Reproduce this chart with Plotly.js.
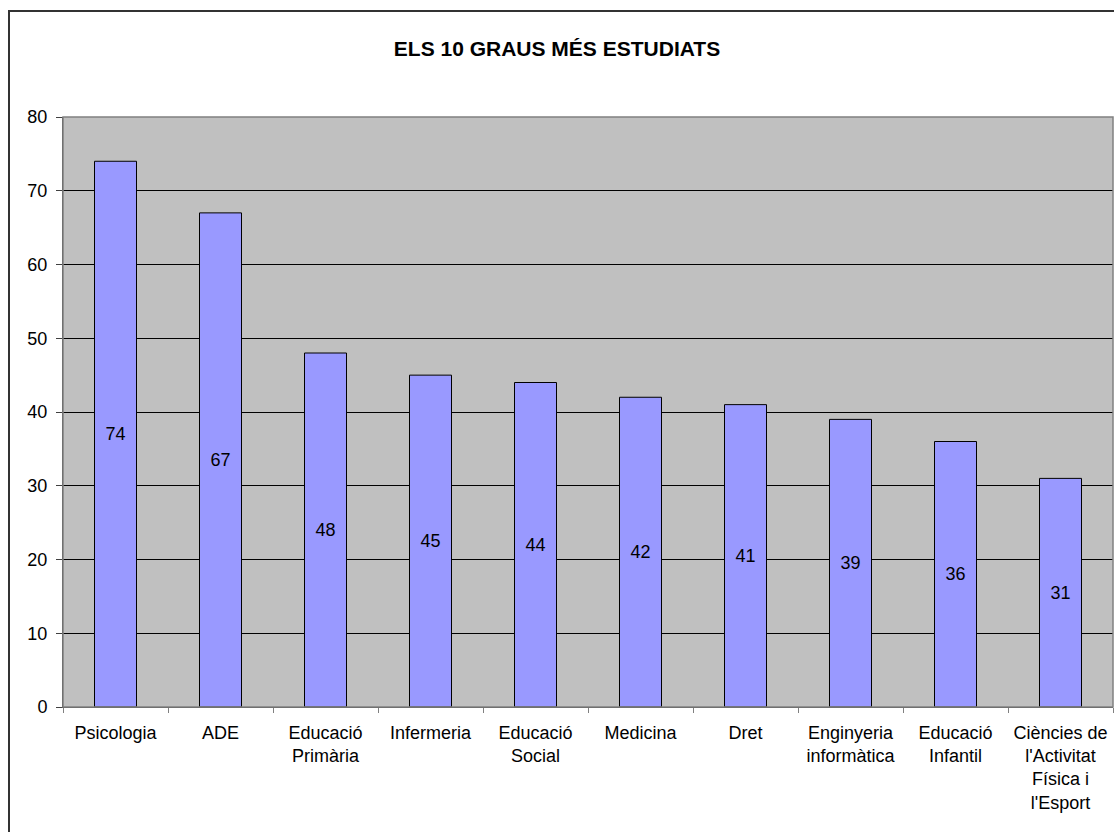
<!DOCTYPE html>
<html><head><meta charset="utf-8">
<script src="https://cdn.plot.ly/plotly-3.0.1.min.js"></script>
<style>
html,body{margin:0;padding:0;background:#fff;overflow:hidden;}
#frame{position:absolute;left:8px;top:10px;width:1200px;height:900px;border:2px solid #333;box-sizing:border-box;pointer-events:none;z-index:5;}
#chart{position:absolute;left:0;top:0;width:1114px;height:832px;}
</style>
</head><body>
<div id="chart"></div>
<div id="frame"></div>
<script>
const categories = ["Psicologia","ADE","Educació<br>Primària","Infermeria","Educació<br>Social","Medicina","Dret","Enginyeria<br>informàtica","Educació<br>Infantil","Ciències de<br>l'Activitat<br>Física i<br>l'Esport"];
const values = [74,67,48,45,44,42,41,39,36,31];
const yTicks = [0,10,20,30,40,50,60,70,80];

const trace = {
  type:'bar', x:categories, y:values,
  text: values.map(String), textposition:'inside', insidetextanchor:'middle',
  textangle:0,
  textfont:{family:'Liberation Sans, Arial', size:18, color:'#000'},
  marker:{color:'#9999FF', line:{color:'#000', width:1}},
  hoverinfo:'none'
};
const layout = {
  width:1114, height:832,
  margin:{l:63, r:1, t:117, b:125},
  paper_bgcolor:'rgba(0,0,0,0)', plot_bgcolor:'#C0C0C0',
  title:{text:'<b>ELS 10 GRAUS MÉS ESTUDIATS</b>', x:0.5, xanchor:'center', y:1-49/832, yanchor:'middle',
    font:{family:'Liberation Sans, Arial', size:21, color:'#000'}},
  bargap:0.6,
  showlegend:false,
  font:{family:'Liberation Sans, Arial', color:'#000'},
  xaxis:{type:'category', tickson:'boundaries', ticks:'outside', ticklen:5, tickcolor:'#808080',
    showgrid:false, showline:true, linecolor:'#404040', linewidth:1, ticklabelstandoff:9,
    tickfont:{size:18, family:'Liberation Sans, Arial', color:'#000'}, automargin:false, tickangle:0},
  yaxis:{range:[0,80], tickvals:yTicks, ticks:'outside', ticklen:6, tickcolor:'#404040',
    showgrid:true, gridcolor:'#000', gridwidth:1, zeroline:false, ticklabelstandoff:5,
    showline:true, linecolor:'#404040', linewidth:1,
    tickfont:{size:18, family:'Liberation Sans, Arial', color:'#000'}, automargin:false},
  shapes:[{type:'rect', xref:'paper', yref:'paper', x0:0, x1:1, y0:0, y1:1, line:{color:'#808080', width:1.5}, layer:'above'}]
};
Plotly.newPlot('chart',[trace],layout,{displayModeBar:false, staticPlot:true});
</script>
</body></html>
